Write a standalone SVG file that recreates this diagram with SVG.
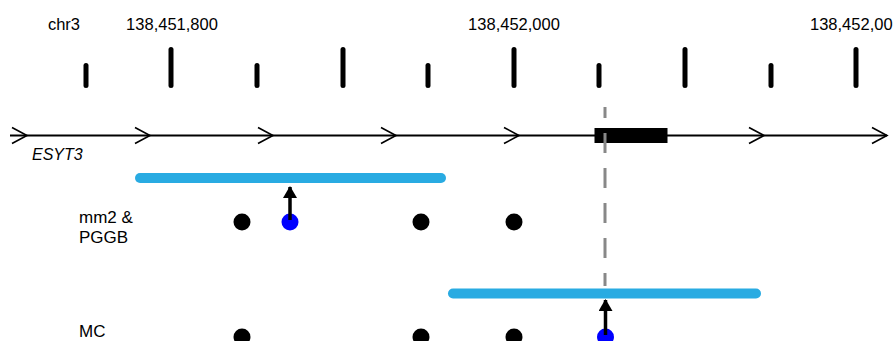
<svg xmlns="http://www.w3.org/2000/svg" width="895" height="341" viewBox="0 0 895 341">
<style>
text{font-family:"Liberation Sans",Arial,sans-serif;fill:#000}
.lab{font-size:16.5px;text-anchor:middle}
.row{font-size:17px}
.tick{stroke:#000;stroke-width:5;stroke-linecap:round}
.chev{fill:none;stroke:#000;stroke-width:1.6}
.bar{stroke:#29abe2;stroke-width:10;stroke-linecap:round}
.dot{fill:#000}
.snp{fill:#0000ff}
.arr{stroke:#000;stroke-width:3.5}
</style>
<defs>
<marker id="ah" viewBox="0 0 12 14" refX="11" refY="7" markerWidth="12" markerHeight="14" markerUnits="userSpaceOnUse" orient="auto">
<path d="M0,0 L12,7 L0,14 Z" fill="#000"/>
</marker>
</defs>
<g id="axis">
<text x="64" y="30" class="lab">chr3</text>
<text x="172" y="30" class="lab">138,451,800</text>
<text x="514" y="30" class="lab">138,452,000</text>
<text x="810" y="30" font-size="16.5">138,452,00</text>
<line class="tick" x1="86" y1="65.5" x2="86" y2="85.5"/>
<line class="tick" x1="171" y1="49.5" x2="171" y2="85.5"/>
<line class="tick" x1="257" y1="65.5" x2="257" y2="85.5"/>
<line class="tick" x1="343" y1="49.5" x2="343" y2="85.5"/>
<line class="tick" x1="428" y1="65.5" x2="428" y2="85.5"/>
<line class="tick" x1="514" y1="49.5" x2="514" y2="85.5"/>
<line class="tick" x1="599" y1="65.5" x2="599" y2="85.5"/>
<line class="tick" x1="685" y1="49.5" x2="685" y2="85.5"/>
<line class="tick" x1="771" y1="65.5" x2="771" y2="85.5"/>
<line class="tick" x1="856" y1="49.5" x2="856" y2="85.5"/>
</g>
<g id="gene">
<line x1="10" y1="135.5" x2="887" y2="135.5" stroke="#000" stroke-width="1.8"/>
<path class="chev" d="M12,127.5 L27,135.5 L12,143.5 M135,127.5 L150,135.5 L135,143.5 M258,127.5 L273,135.5 L258,143.5 M381,127.5 L396,135.5 L381,143.5 M504,127.5 L519,135.5 L504,143.5 M749,127.5 L764,135.5 L749,143.5 M872,127.5 L887,135.5 L872,143.5"/>
<rect x="594.5" y="128" width="73" height="15" fill="#000"/>
<text x="32" y="160" font-size="16" font-style="italic">ESYT3</text>
</g>
<g id="mm2-pggb">
<text class="row" x="79" y="223">mm2 &amp;</text>
<text class="row" x="79" y="243">PGGB</text>
<line class="bar" x1="140" y1="178" x2="441" y2="178"/>
<circle class="dot" cx="242" cy="222" r="8.5"/>
<circle class="dot" cx="421" cy="222" r="8.5"/>
<circle class="dot" cx="514" cy="222" r="8.5"/>
<circle class="snp" cx="290" cy="222" r="8.5"/>
</g>
<g id="mc">
<text class="row" x="79" y="337">MC</text>
<line class="bar" x1="453" y1="293.5" x2="756" y2="293.5"/>
<circle class="dot" cx="242" cy="337" r="8.5"/>
<circle class="dot" cx="421" cy="337" r="8.5"/>
<circle class="dot" cx="514" cy="337" r="8.5"/>
<circle class="snp" cx="605.5" cy="337" r="8.5"/>
</g>
<g id="connectors">
<line x1="605" y1="107" x2="605" y2="286" stroke="#888" stroke-width="3" stroke-dasharray="20 15" stroke-dashoffset="9"/>
<line class="arr" x1="290" y1="220" x2="290" y2="187" marker-end="url(#ah)"/>
<line class="arr" x1="605.5" y1="335" x2="605.5" y2="300" marker-end="url(#ah)"/>
</g>
</svg>
